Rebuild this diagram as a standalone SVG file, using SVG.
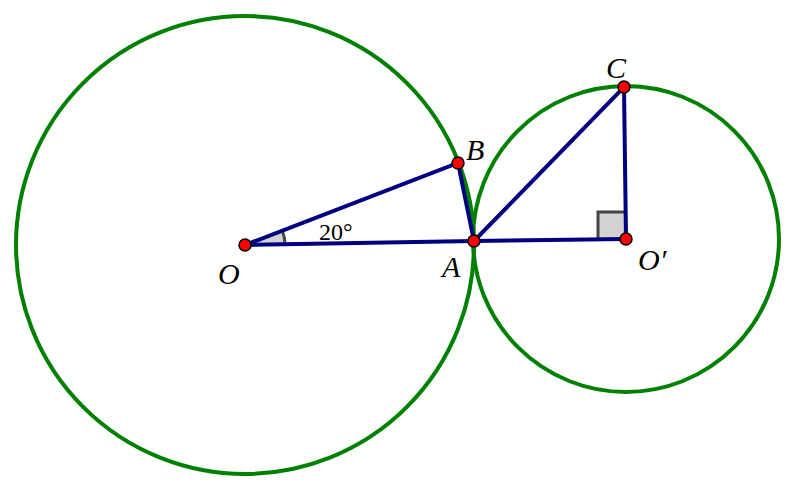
<svg xmlns="http://www.w3.org/2000/svg" width="797" height="491" viewBox="0 0 797 491">
<style>
.c{fill:none;stroke:#008000;stroke-width:4}
.s{stroke:#000080;stroke-width:4;fill:none}
.p{fill:#ff0000;stroke:#000;stroke-width:1.5}
.l{font-family:"Liberation Serif",serif;font-style:italic;font-size:30px;fill:#000}
</style>
<rect width="797" height="491" fill="#fff"/>
<g id="circles">
<circle class="c" cx="245" cy="245" r="229"/>
<circle class="c" cx="626" cy="239" r="153"/>
</g>
<g id="marks">
<path d="M285,244.4 A40,40 0 0 0 282.6,231.4 L245,245 Z" fill="#d3d3d3" stroke="none"/>
<path d="M285,244.4 A40,40 0 0 0 282.6,231.4" fill="none" stroke="#444" stroke-width="3"/>
<path d="M598,239.4 L598,212 L625.5,212 L626,239 Z" fill="#d3d3d3" stroke="#444" stroke-width="3"/>
</g>
<g id="connectors">
<path class="s" d="M245,245 L474,241 L626,239"/>
<path class="s" d="M245,245 L458,163 L474,241"/>
<path class="s" d="M474,241 L624,87 L626,239"/>
</g>
<g id="points">
<circle id="O" class="p" cx="245" cy="245" r="6"/>
<circle id="A" class="p" cx="474" cy="241" r="6"/>
<circle id="B" class="p" cx="458" cy="163" r="6"/>
<circle id="C" class="p" cx="624" cy="87" r="6"/>
<circle id="Op" class="p" cx="626" cy="239" r="6"/>
</g>
<g id="labels">
<text class="l" x="218" y="284">O</text>
<text class="l" x="442" y="277">A</text>
<text class="l" x="466" y="160">B</text>
<text class="l" x="606" y="78">C</text>
<text class="l" x="638" y="270">O′</text>
<text x="319" y="240" font-family="Liberation Serif,serif" font-size="24" fill="#000">20°</text>
</g>
</svg>
